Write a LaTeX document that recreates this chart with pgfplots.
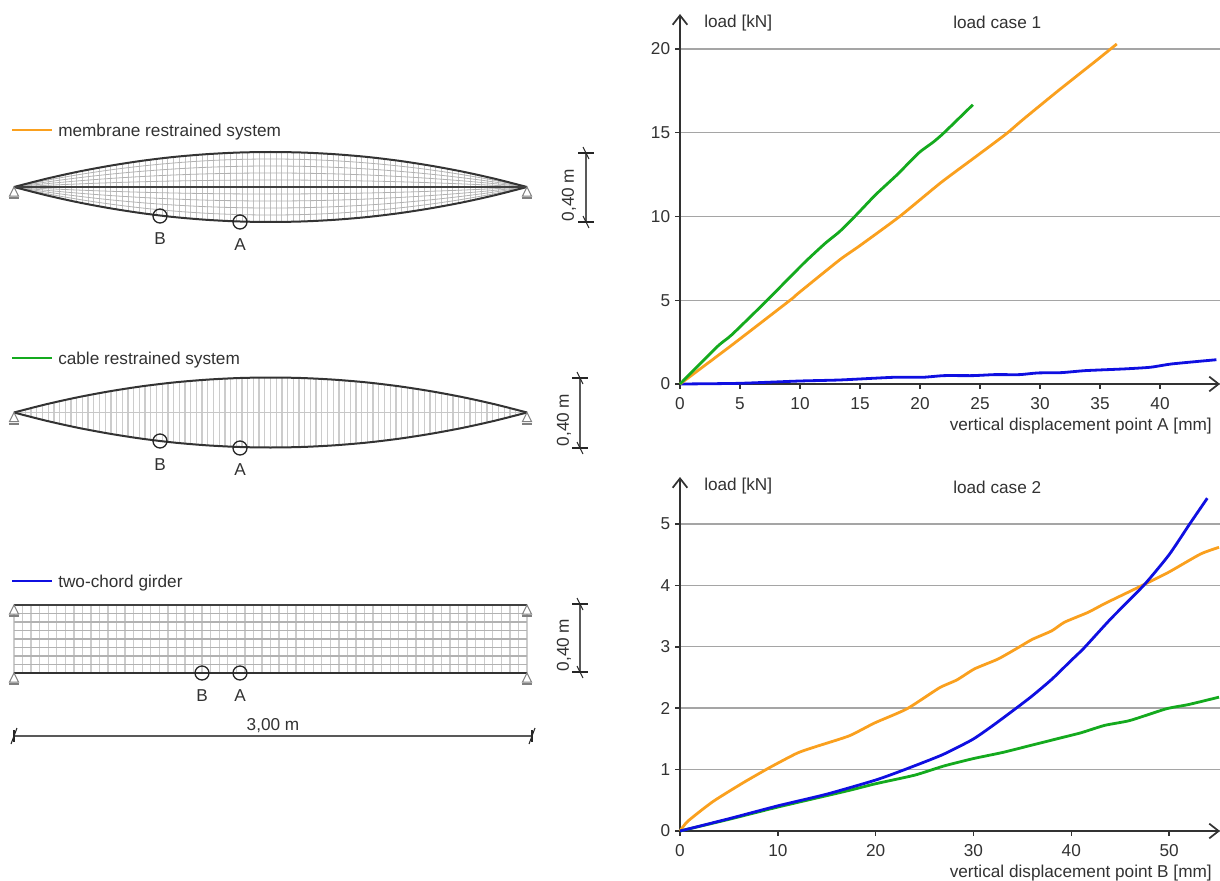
\documentclass[border=0pt]{standalone}
\usepackage{pgfplots}
\pgfplotsset{compat=1.18}
\usepackage{pgfplotstable}
\usepackage{fontspec}
\setmainfont{Liberation Sans}
\usetikzlibrary{arrows.meta}
\definecolor{cOr}{RGB}{250,160,30}
\definecolor{cGr}{RGB}{20,170,30}
\definecolor{cBl}{RGB}{15,15,225}
\definecolor{cTx}{RGB}{50,50,50}
\definecolor{cGd}{RGB}{165,165,165}
\newcommand{\tf}{\fontsize{12.9pt}{14pt}\selectfont}
\pgfplotstableread{
x d
14 0
46.06 8.2
78.1 15.3
110.2 21.3
142.25 26.25
174.3 30.1
206.4 32.8
238.4 34.45
270.5 35
302.6 34.45
334.6 32.8
366.7 30.1
398.75 26.25
430.8 21.3
462.9 15.3
494.9 8.2
527 0
}\lens
\pgfplotsset{chart/.style={
  scale only axis, axis lines=left, clip=false,
  xmin=0, ymin=0,
  axis line style={cTx,line width=1.3pt,-{Straight Barb[length=7pt,width=11pt,line width=1.3pt]}},
  tick style={cTx,line width=1.1pt}, tick align=outside,
  major tick length=3.4pt,
  ymajorgrids, grid style={cGd,line width=1.05pt},
  tick label style={font=\tf,text=cTx},
  /pgf/number format/assume math mode=true,
  xticklabel style={yshift=-3.2pt}, yticklabel style={xshift=-0.5pt},
  every axis plot/.append style={line width=2.1pt,no marks,line join=round,smooth,tension=0.35},
  axis on top=false
}}
\begin{document}
\begin{tikzpicture}
\useasboundingbox (0,0) rectangle (915pt,-660.75pt);
% mesh of the three schematic systems
\begin{scope}[x=0.75pt,y=-0.75pt]
\foreach \i in {1,...,89}{
  \pgfmathsetmacro\tt{\i/90}
  \pgfmathsetmacro\xx{14+513*\tt}
  \pgfmathsetmacro\dd{140*\tt*(1-\tt)}
  \draw[line width=0.7pt,black!24] (\xx,187-\dd) -- (\xx,187+\dd);
  \draw[line width=0.95pt,black!20] (\xx,412.5-\dd) -- (\xx,412.5+\dd);
}
\foreach \f in {0.2,0.4,0.6,0.8}{
  \draw[line width=0.6pt,black!30] plot[domain=0:1,samples=36,smooth] ({14+513*\x},{187-\f*140*\x*(1-\x)});
  \draw[line width=0.6pt,black!30] plot[domain=0:1,samples=36,smooth] ({14+513*\x},{187+\f*140*\x*(1-\x)});
}
\draw[line width=0.7pt,black!22] (14,412.5) -- (527,412.5);
\foreach \i in {0,...,60}{
  \pgfmathsetmacro\tt{\i/60}
  \pgfmathsetmacro\xx{14+513*\tt}
  \draw[line width=1pt,black!20] (\xx,605) -- (\xx,673);
}
\foreach \i in {1,...,7}{
  \pgfmathsetmacro\yy{605+68*\i/8}
  \draw[line width=0.8pt,black!30] (14,\yy) -- (527,\yy);
}
\end{scope}
% schematic chords and legend lines, in picture pixels
\begin{axis}[at={(0pt,-660.75pt)},anchor=south west,scale only axis,hide axis,clip=false,
  width=915pt,height=660.75pt,xmin=0,xmax=1220,ymin=-881,ymax=0,
  every axis plot/.append style={no marks}]
\addplot[smooth,black!80,line width=1.5pt] table[x=x,y expr=-187+\thisrow{d}] {\lens};
\addplot[smooth,black!80,line width=1.5pt] table[x=x,y expr=-187-\thisrow{d}] {\lens};
\addplot[black!75,line width=1.5pt] coordinates {(14,-187)(527,-187)};
\addplot[smooth,black!80,line width=1.5pt] table[x=x,y expr=-412.5+\thisrow{d}] {\lens};
\addplot[smooth,black!80,line width=1.5pt] table[x=x,y expr=-412.5-\thisrow{d}] {\lens};
\addplot[black!75,line width=1.5pt] coordinates {(14,-605)(527,-605)};
\addplot[black!80,line width=1.5pt] coordinates {(14,-673)(527,-673)};
\addplot[cOr,line width=2.1pt] coordinates {(12,-130)(52,-130)};
\addplot[cGr,line width=2.1pt] coordinates {(12,-358)(52,-358)};
\addplot[cBl,line width=2.1pt] coordinates {(12,-581)(52,-581)};
% dimension lines
\addplot[black!65,line width=1.3pt] coordinates {(14,-736)(532,-736)};
\addplot[black!65,line width=1.3pt] coordinates {(586,-153)(586,-222)};
\addplot[black!65,line width=1.3pt] coordinates {(580,-378)(580,-448)};
\addplot[black!65,line width=1.3pt] coordinates {(580,-604)(580,-672)};
\end{axis}
\begin{scope}[x=0.75pt,y=-0.75pt]
\tikzset{lab/.style={font=\tf,text=cTx,inner sep=0pt,yshift=-1.2pt},
  rlab/.style={font=\tf,text=cTx,inner sep=0pt,rotate=90},
  sup/.style={draw=black!50,line width=0.75pt,fill=white},
  ring/.style={draw=black!85,line width=1pt},
  dimt/.style={black!85,line width=0.8pt}}
\node[lab,anchor=west] at (58,130) {membrane restrained system};
\node[lab,anchor=west] at (58,358) {cable restrained system};
\node[lab,anchor=west] at (58,581) {two-chord girder};
\foreach \sx/\sy in {14/187,527/187,14/412.5,527/412.5,14/605,527/605,14/673,527/673}{
  \draw[sup] (\sx,\sy) -- (\sx-4.5,\sy+9) -- (\sx+4.5,\sy+9) -- cycle;
  \draw[black!50,line width=1.5pt] (\sx-5,\sy+11) -- (\sx+5,\sy+11);
}
\foreach \cx/\cy/\t/\ly in {160/216/B/237,240/222/A/243,160/441/B/463,240/448/A/468,202/673/B/694,240/673/A/694}{
  \draw[ring] (\cx,\cy) circle (5.25pt);
  \node[lab] at (\cx,\ly) {\t};
}
\node[lab] at (273,724) {3,00 m};
\foreach \dx/\dy in {14/736,532/736}{
  \draw[dimt] (\dx-3,\dy+8) -- (\dx+3,\dy-8);
  \draw[dimt] (\dx,\dy-6) -- (\dx,\dy+6);
}
\foreach \dx/\dy in {586/153,586/222,580/378,580/448,580/604,580/672}{
  \draw[dimt] (\dx-8,\dy) -- (\dx+8,\dy);
  \draw[dimt] (\dx-3,\dy-6) -- (\dx+3,\dy+6);
}
\node[rlab] at (569,195) {0,40 m};
\node[rlab] at (564,420) {0,40 m};
\node[rlab] at (564,645) {0,40 m};
\end{scope}
% load case 1
\begin{axis}[chart,at={(510pt,-288pt)},anchor=south west,width=405pt,height=277.5pt,
  xmax=45,ymax=22.09,xtick={0,5,...,40},ytick={0,5,10,15,20}]
\addplot[cBl] coordinates {(0,0)(4.9,0.04)(10,0.18)(13.3,0.24)(17.8,0.4)(20.2,0.4)(22,0.5)(24.4,0.5)(26.2,0.56)(28.3,0.56)(29.8,0.66)(31.8,0.68)(33.8,0.8)(37,0.9)(39.2,1.0)(41,1.2)(44.7,1.45)};
\addplot[cOr] coordinates {(0,0)(4.15,2.23)(9.17,5)(9.86,5.42)(13.3,7.41)(14.97,8.25)(18.3,10)(21.7,12)(24.7,13.6)(26.2,14.4)(27.3,15)(28.6,15.8)(31.5,17.5)(34.6,19.26)(36.4,20.3)};
\addplot[cGr] coordinates {(0,0)(3.1,2.23)(4.3,2.93)(7.15,4.92)(10.3,7.2)(12.1,8.4)(13.3,9.1)(14.7,10.1)(16.3,11.3)(18.1,12.5)(19.9,13.8)(21.1,14.44)(22,15)(24.4,16.67)};
\end{axis}
% load case 2
\begin{axis}[chart,at={(510pt,-623.25pt)},anchor=south west,width=405pt,height=265.5pt,
  xmax=55.2,ymax=5.765,xtick={0,10,...,50},ytick={0,1,2,3,4,5}]
\addplot[cOr] coordinates {(0,0)(0.8,0.16)(3.37,0.48)(6.5,0.79)(9.24,1.04)(12,1.27)(14,1.38)(17.3,1.55)(19.9,1.76)(23.2,1.99)(26.5,2.33)(28.3,2.46)(30.1,2.64)(32.5,2.8)(34.5,2.98)(36,3.12)(38,3.26)(39.3,3.4)(41.7,3.56)(43.5,3.71)(47,3.98)(49.9,4.21)(53.2,4.51)(55.1,4.62)};
\addplot[cGr] coordinates {(0,0)(5,0.19)(10,0.39)(17,0.65)(20,0.77)(24,0.91)(27,1.06)(30,1.18)(33,1.28)(36,1.4)(39,1.52)(41,1.6)(43.4,1.72)(46,1.8)(49.7,1.99)(52,2.06)(55.1,2.18)};
\addplot[cBl] coordinates {(0,0)(5,0.2)(10,0.41)(15,0.6)(20,0.83)(22.8,0.99)(26.8,1.24)(29.9,1.49)(32,1.72)(34.2,1.98)(36,2.2)(38,2.47)(40,2.78)(41.3,2.98)(44,3.45)(47.4,4.0)(50,4.5)(52.1,5.0)(53.9,5.42)};
\end{axis}
\begin{scope}[x=0.75pt,y=-0.75pt]
\tikzset{lab/.style={font=\tf,text=cTx,inner sep=0pt,yshift=-1.2pt}}
\node[lab,anchor=west] at (704,21) {load [kN]};
\node[lab,anchor=west] at (953,21) {load case 1};
\node[lab,anchor=east] at (1212,424) {vertical displacement point A [mm]};
\node[lab,anchor=west] at (704,484) {load [kN]};
\node[lab,anchor=west] at (953,486) {load case 2};
\node[lab,anchor=east] at (1212,871) {vertical displacement point B [mm]};
\end{scope}
\end{tikzpicture}
\end{document}
